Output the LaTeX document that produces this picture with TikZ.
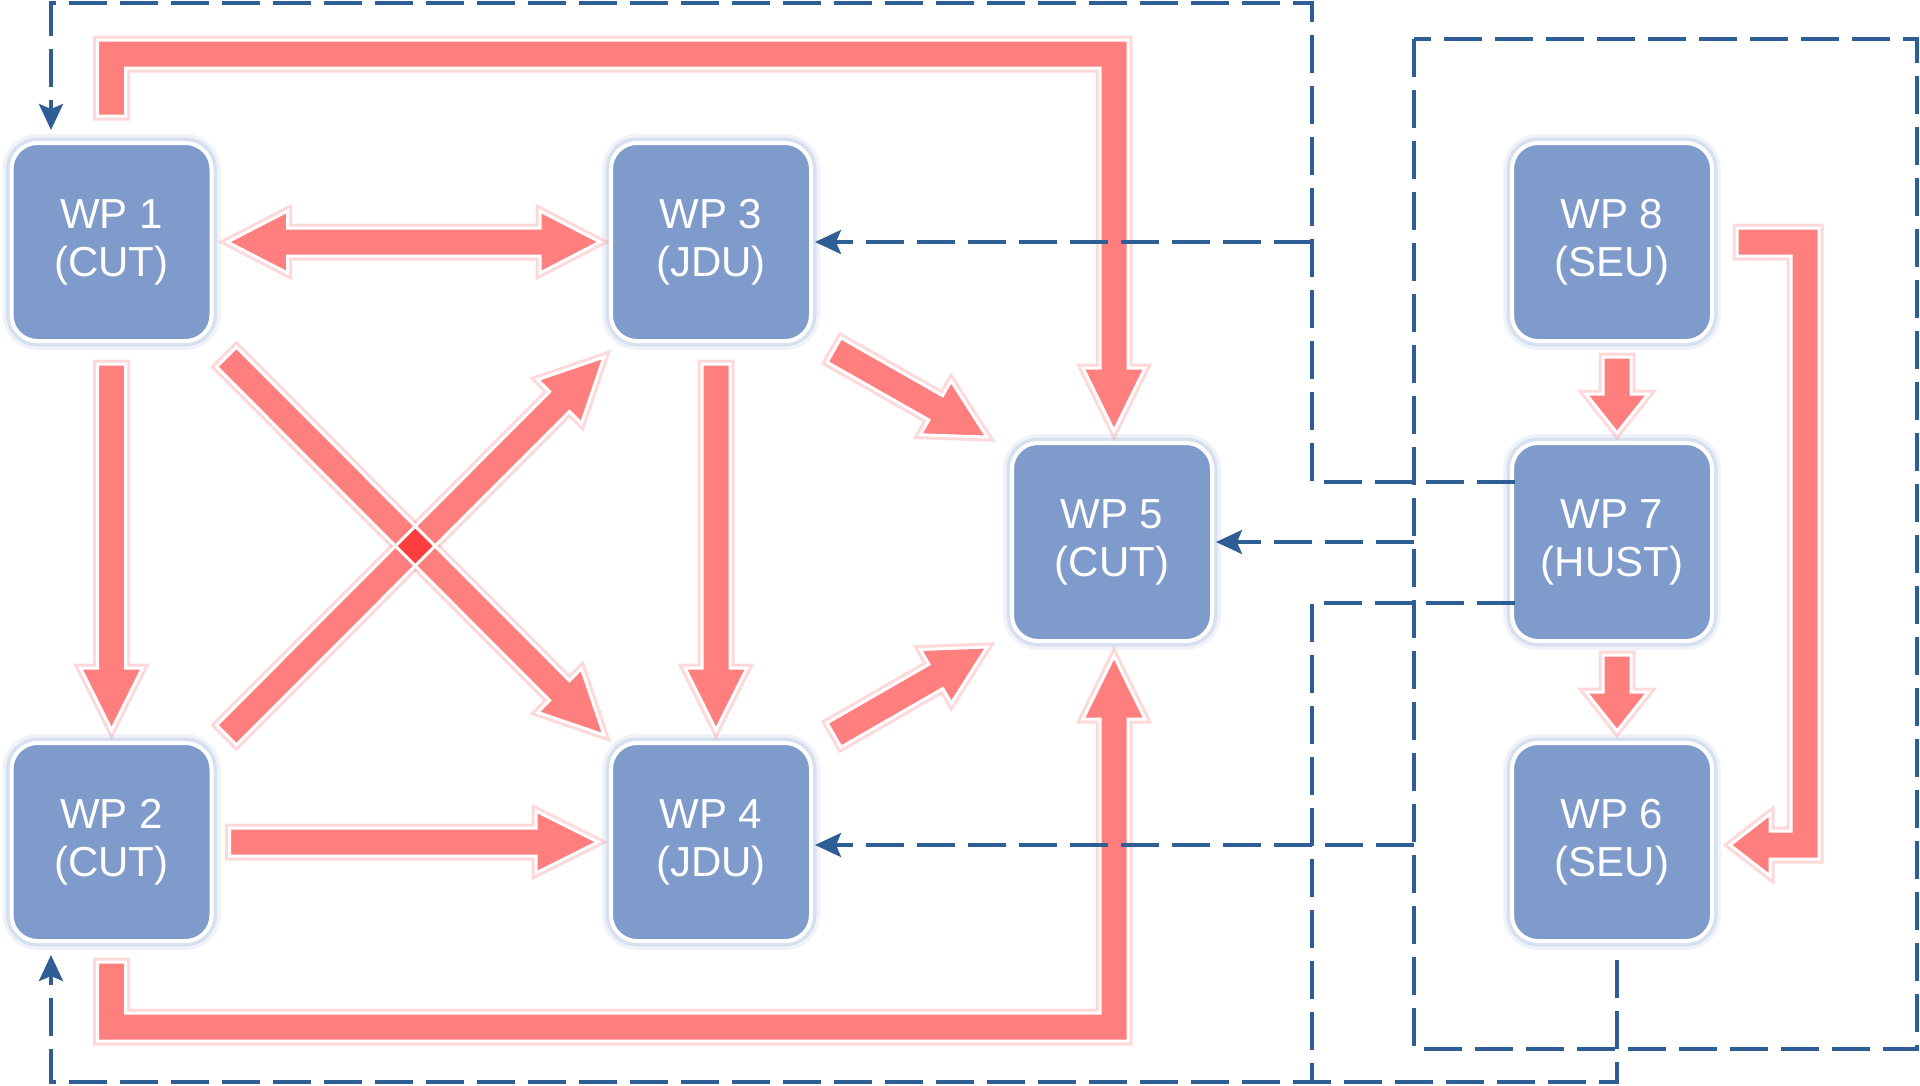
\documentclass[tikz,border=0pt]{standalone}
\usepackage{fontspec}
\setmainfont{Liberation Sans}
\usetikzlibrary{calc,arrows.meta}
\definecolor{boxblue}{RGB}{127,155,203}
\definecolor{dashblue}{RGB}{47,94,150}
\tikzset{
  redglow/.style={draw=red!50, line width=9pt, draw opacity=0.3, line join=miter},
  redarrow/.style={preaction={redglow}, preaction={fill=white}, fill=red, fill opacity=0.5, draw=white, line width=3pt, line join=miter},
  whitefill/.style={fill=white},
  redfill/.style={fill=red, fill opacity=0.5},
  whiteline/.style={draw=white, line width=3pt, line join=miter},
  wpbox/.style={rectangle, rounded corners=26pt, draw=white, line width=4pt, fill=boxblue,
    minimum width=200pt, minimum height=198pt, inner sep=0pt, text=white, align=center,
    font=\fontsize{42}{48}\selectfont,
    preaction={draw=boxblue, line width=18pt, draw opacity=0.12},
    preaction={draw=boxblue, line width=11pt, draw opacity=0.22}},
  dashline/.style={draw=dashblue, line width=3.5pt, dash pattern=on 38pt off 13pt},
  dasharrow/.style={dashline, -{Stealth[length=26pt,width=24pt,inset=5pt]}}
}
% straight block arrow: #1 style, #2 tail, #3 tip, #4 head length
\newcommand{\blockarrow}[4][redarrow]{%
  \coordinate (bah) at ($(#3)!#4!(#2)$);
  \path[#1] ($(#2)!14pt!90:(#3)$) -- ($(bah)!14pt!90:(#3)$) -- ($(bah)!31pt!90:(#3)$) -- (#3)
    -- ($(bah)!31pt!-90:(#3)$) -- ($(bah)!14pt!-90:(#3)$) -- ($(#2)!14pt!-90:(#3)$) -- cycle;
}
% double-headed block arrow: #1 one tip, #2 other tip, #3 head length
\newcommand{\dblblockarrow}[3]{%
  \coordinate (dha) at ($(#1)!#3!(#2)$);
  \coordinate (dhb) at ($(#2)!#3!(#1)$);
  \path[redarrow] (#1) -- ($(dha)!31pt!90:(#2)$) -- ($(dha)!14pt!90:(#2)$) -- ($(dhb)!14pt!90:(#2)$)
    -- ($(dhb)!31pt!90:(#2)$) -- (#2) -- ($(dhb)!31pt!-90:(#2)$) -- ($(dhb)!14pt!-90:(#2)$)
    -- ($(dha)!14pt!-90:(#2)$) -- ($(dha)!31pt!-90:(#2)$) -- cycle;
}
\begin{document}
\begin{tikzpicture}[x=1pt,y=-1pt]
\useasboundingbox (0,0) rectangle (1920,1085);

% boxes
\node[wpbox] (wp1) at (111.5,242) {WP 1\\(CUT)};
\node[wpbox] (wp2) at (111.5,842) {WP 2\\(CUT)};
\node[wpbox] (wp3) at (711,242) {WP 3\\(JDU)};
\node[wpbox] (wp4) at (711,842) {WP 4\\(JDU)};
\node[wpbox] (wp5) at (1112,542) {WP 5\\(CUT)};
\node[wpbox] (wp8) at (1612,242) {WP 8\\(SEU)};
\node[wpbox] (wp7) at (1612,542) {WP 7\\(HUST)};
\node[wpbox] (wp6) at (1612,842) {WP 6\\(SEU)};

% end points of the block arrows
\coordinate (aL) at ($(wp1.east)+(14,0)$);
\coordinate (aR) at ($(wp3.west)+(-9,0)$);
\coordinate (bS) at ($(wp1.south)+(0,21)$);
\coordinate (bT) at ($(wp2.north)+(0,-11)$);
\coordinate (cS) at ($(wp3.south)+(5,21)$);
\coordinate (cT) at ($(wp4.north)+(5,-11)$);
\coordinate (dS) at ($(wp2.east)+(16,0)$);
\coordinate (dT) at ($(wp4.west)+(-11,0)$);
\coordinate (eS) at ($(wp1.south east)+(13,14)$);
\coordinate (eT) at ($(wp4.north west)+(-5,-6)$);
\coordinate (fS) at ($(wp2.north east)+(13,-6)$);
\coordinate (fT) at ($(wp3.south west)+(-5,14)$);
\coordinate (gS) at ($(wp3.south east)+(21,7)$);
\coordinate (gT) at ($(wp5.north west)+(-23,-4)$);
\coordinate (hS) at ($(wp4.north east)+(21,-6)$);
\coordinate (hT) at ($(wp5.south west)+(-23,4)$);
\coordinate (iS) at ($(wp1.north)+(0,-25)$);
\coordinate (iT) at ($(wp5.north)+(2,-10)$);
\coordinate (iY) at (0,54);
\coordinate (jS) at ($(wp2.south)+(0,19)$);
\coordinate (jT) at ($(wp5.south)+(2,13)$);
\coordinate (jY) at (0,1027);
\coordinate (kS) at ($(wp8.south)+(5,14)$);
\coordinate (kT) at ($(wp7.north)+(5,-8)$);
\coordinate (lS) at ($(wp7.south)+(5,12)$);
\coordinate (lT) at ($(wp6.north)+(5,-10)$);
\coordinate (mS) at ($(wp8.east)+(23,0)$);
\coordinate (mT) at ($(wp6.east)+(16,3)$);
\coordinate (mX) at (1805,0);

% red block arrows
\dblblockarrow{aL}{aR}{60pt}
\blockarrow{bS}{bT}{62pt}
\blockarrow{cS}{cT}{62pt}
\blockarrow{dS}{dT}{62pt}
% the two crossing arrows, layer by layer so that their overlap darkens
\blockarrow[redglow]{eS}{eT}{63pt}
\blockarrow[redglow]{fS}{fT}{63pt}
\blockarrow[whitefill]{eS}{eT}{63pt}
\blockarrow[whitefill]{fS}{fT}{63pt}
\blockarrow[redfill]{eS}{eT}{63pt}
\blockarrow[redfill]{fS}{fT}{63pt}
\blockarrow[whiteline]{eS}{eT}{63pt}
\blockarrow[whiteline]{fS}{fT}{63pt}
\blockarrow{gS}{gT}{59pt}
\blockarrow{hS}{hT}{59pt}
\blockarrow{kS}{kT}{39pt}
\blockarrow{lS}{lT}{39pt}

\path[redarrow] ($(iS)+(-14,0)$) -- ($(iS|-iY)+(-14,-14)$) -- ($(iT|-iY)+(14,-14)$) -- ($(iT)+(14,-63)$)
  -- ($(iT)+(31,-63)$) -- (iT) -- ($(iT)+(-31,-63)$) -- ($(iT)+(-14,-63)$)
  -- ($(iT|-iY)+(-14,14)$) -- ($(iS|-iY)+(14,14)$) -- ($(iS)+(14,0)$) -- cycle;
\path[redarrow] ($(jS)+(-14,0)$) -- ($(jS|-jY)+(-14,14)$) -- ($(jT|-jY)+(14,14)$) -- ($(jT)+(14,63)$)
  -- ($(jT)+(31,63)$) -- (jT) -- ($(jT)+(-31,63)$) -- ($(jT)+(-14,63)$)
  -- ($(jT|-jY)+(-14,-14)$) -- ($(jS|-jY)+(14,-14)$) -- ($(jS)+(14,0)$) -- cycle;
\path[redarrow] ($(mS)+(0,-14)$) -- ($(mX|-mS)+(14,-14)$) -- ($(mX|-mT)+(14,14)$) -- ($(mT)+(40,14)$)
  -- ($(mT)+(40,31)$) -- (mT) -- ($(mT)+(40,-31)$) -- ($(mT)+(40,-14)$)
  -- ($(mX|-mT)+(-14,-14)$) -- ($(mX|-mS)+(-14,14)$) -- ($(mS)+(0,14)$) -- cycle;

% blue dashed links
\draw[dashline] (1414,39) rectangle (1917,1049);
\draw[dasharrow] ($(wp7.west)+(5,-60)$) -| (1312,3) -| ($(wp1.north)+(-60.5,-11)$);
\draw[dasharrow] (1312,242) -- ($(wp3.east)+(2,0)$);
\draw[dasharrow] (1414,542) -- ($(wp5.east)+(2,0)$);
\draw[dasharrow] (1414,845) -- ($(wp4.east)+(2,3)$);
\draw[dashline] ($(wp7.west)+(5,61)$) -| (1312,1082);
\draw[dasharrow] ($(wp6.south)+(5,17)$) |- (51,1082) -- ($(wp2.south)+(-60.5,12)$);
\end{tikzpicture}
\end{document}
